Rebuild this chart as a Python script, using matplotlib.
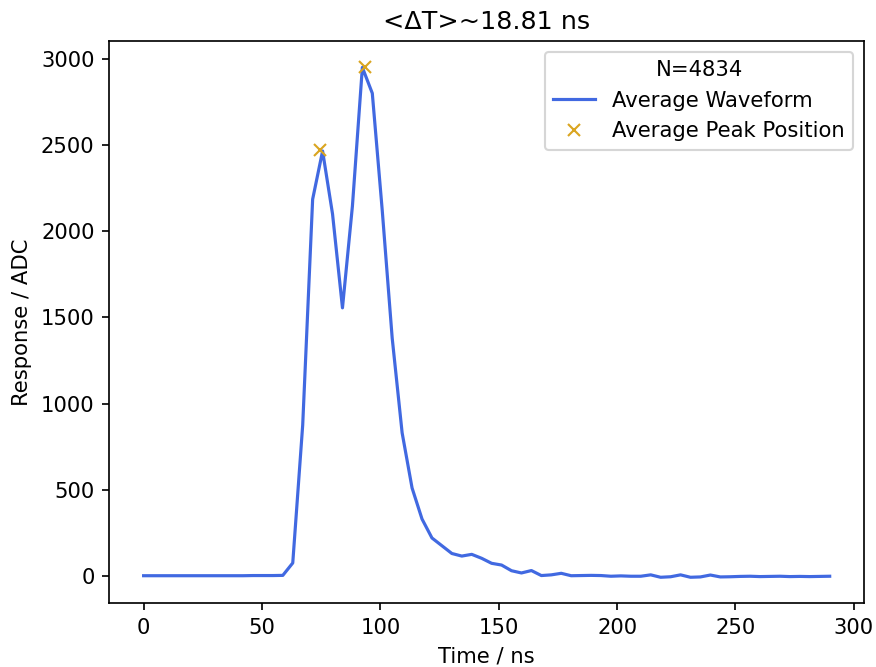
import matplotlib
matplotlib.use("Agg")
import matplotlib.pyplot as plt

time_ns = [0.0, 4.2, 8.4, 12.6, 16.8, 21.0, 25.2, 29.4, 33.6, 37.8,
           42.0, 46.2, 50.4, 54.6, 58.8, 63.0, 67.2, 71.4, 75.6, 79.8,
           84.0, 88.2, 92.4, 96.6, 100.8, 105.0, 109.2, 113.4, 117.6, 121.8,
           126.0, 130.2, 134.4, 138.6, 142.8, 147.0, 151.2, 155.4, 159.6, 163.8,
           168.0, 172.2, 176.4, 180.6, 184.8, 189.0, 193.2, 197.4, 201.6, 205.8,
           210.0, 214.2, 218.4, 222.6, 226.8, 231.0, 235.2, 239.4, 243.6, 247.8,
           252.0, 256.2, 260.4, 264.6, 268.8, 273.0, 277.2, 281.4, 285.6, 289.8]
response_adc = [1, 1, 1, 1, 1, 1, 1, 1, 1, 1,
                1, 2, 2, 2, 3, 75, 875, 2185, 2465, 2100,
                1555, 2145, 2950, 2800, 2120, 1380, 830, 510, 330, 220,
                175, 130, 115, 125, 102, 73, 63, 30, 17, 31,
                2, 6, 15, 1, 2, 3, 2, -2, 0, -2,
                -2, 6, -8, -5, 6, -8, -6, 5, -6, -5,
                -3, -2, -4, -3, -2, -4, -3, -4, -3, -2]
peak_t = [74.65, 93.46]
peak_y = [2471, 2954]
n_events = 4834
delta_t = 18.81

dpi = 152
fig = plt.figure(figsize=(876 / dpi, 667 / dpi), dpi=dpi)
ax = fig.add_axes([109.3 / 876, 1 - 602.8 / 667, (864 - 109.3) / 876, (602.8 - 41.2) / 667])

ax.plot(time_ns, response_adc, color="royalblue", label="Average Waveform")
ax.plot(peak_t, peak_y, "x", color="goldenrod", label="Average Peak Position")
ax.set_xlabel("Time / ns")
ax.set_ylabel("Response / ADC")
ax.set_title(f"<ΔT>~{delta_t} ns")
ax.legend(title=f"N={n_events}", loc="upper right")

fig.savefig("out.png", dpi=dpi)
